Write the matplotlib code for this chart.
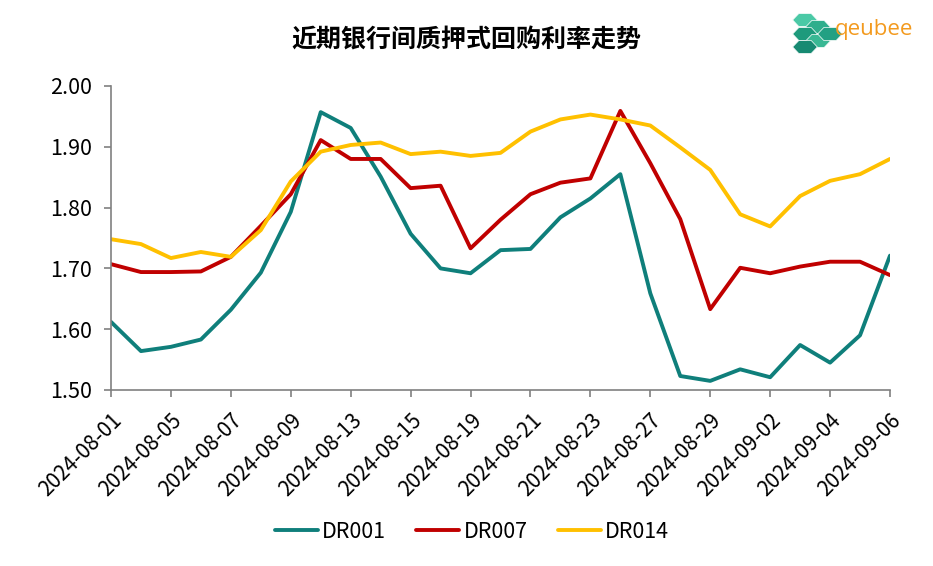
import matplotlib.pyplot as plt
import matplotlib.transforms as mtransforms
from matplotlib.patches import RegularPolygon

# trading days in the window
dates = ['2024-08-01', '2024-08-02', '2024-08-05', '2024-08-06', '2024-08-07',
         '2024-08-08', '2024-08-09', '2024-08-12', '2024-08-13', '2024-08-14',
         '2024-08-15', '2024-08-16', '2024-08-19', '2024-08-20', '2024-08-21',
         '2024-08-22', '2024-08-23', '2024-08-26', '2024-08-27', '2024-08-28',
         '2024-08-29', '2024-08-30', '2024-09-02', '2024-09-03', '2024-09-04',
         '2024-09-05', '2024-09-06']

dr001 = [1.612, 1.564, 1.571, 1.583, 1.632, 1.693, 1.793, 1.957, 1.931, 1.851,
         1.757, 1.700, 1.692, 1.730, 1.732, 1.784, 1.815, 1.855, 1.659, 1.523,
         1.515, 1.534, 1.521, 1.574, 1.545, 1.590, 1.721]
dr007 = [1.707, 1.694, 1.694, 1.695, 1.719, 1.770, 1.822, 1.911, 1.880, 1.880,
         1.832, 1.836, 1.733, 1.780, 1.822, 1.841, 1.848, 1.959, 1.873, 1.781,
         1.633, 1.701, 1.692, 1.703, 1.711, 1.711, 1.689]
dr014 = [1.748, 1.740, 1.717, 1.727, 1.719, 1.763, 1.843, 1.892, 1.903, 1.907,
         1.888, 1.892, 1.885, 1.890, 1.925, 1.945, 1.953, 1.945, 1.935, 1.899,
         1.862, 1.789, 1.769, 1.819, 1.844, 1.855, 1.880]

series = [('DR001', dr001, '#0F7F7B'),
          ('DR007', dr007, '#C00000'),
          ('DR014', dr014, '#FFC000')]

yticks = [1.50, 1.60, 1.70, 1.80, 1.90, 2.00]

plt.rcParams['font.family'] = ['Noto Sans CJK SC', 'DejaVu Sans']

fig = plt.figure(figsize=(9.33, 5.66), dpi=100)
ax = fig.add_axes([111 / 933, 1 - 390 / 566, (890 - 111) / 933, (390 - 86) / 566])

x = list(range(len(dates)))
for name, vals, color in series:
    ax.plot(x, vals, color=color, lw=2.8, label=name, solid_capstyle='round')

ax.set_xlim(0, len(dates) - 1)
ax.set_ylim(1.50, 2.00)
ax.set_yticks(yticks)
ax.set_yticklabels([f'{v:.2f}' for v in yticks], fontsize=15.5)
ax.set_xticks(x[::2])
ax.set_xticklabels(dates[::2], rotation=45, ha='right', va='top',
                   rotation_mode='anchor', fontsize=15)

# nudge the date labels a little to the right, like the original
shift = mtransforms.ScaledTranslation(5 / 100, 0, fig.dpi_scale_trans)
for lbl in ax.get_xticklabels():
    lbl.set_transform(lbl.get_transform() + shift)

for side in ['top', 'right']:
    ax.spines[side].set_visible(False)
for side in ['left', 'bottom']:
    ax.spines[side].set_color('#808080')
    ax.spines[side].set_linewidth(1.2)
ax.tick_params(axis='both', colors='#808080', length=5, width=1.2, labelcolor='black')
ax.tick_params(axis='y', pad=9)
ax.tick_params(axis='x', pad=9)

fig.text(466 / 933, 1 - 40 / 566, '近期银行间质押式回购利率走势', ha='center', va='center',
         fontsize=18, fontweight='bold')

ax.legend(loc='center', bbox_to_anchor=(472 / 933, 1 - 532 / 566),
          bbox_transform=fig.transFigure, ncol=3, frameon=False, fontsize=15.5,
          handlelength=2.0, columnspacing=1.4, handletextpad=0.2)

# logo
greens = ['#4BC9A6', '#2FAE8C', '#1E9A7C', '#39B894', '#23A083', '#178A72']
centers = [(805, 20), (818, 27), (805, 34), (818, 41), (830, 34), (805, 47)]
for (cx, cy), c in zip(centers, greens):
    fig.patches.append(RegularPolygon((cx / 933, 1 - cy / 566), 6, radius=7.5 / 566,
                                      orientation=0.52, facecolor=c, edgecolor='white',
                                      lw=0.5, transform=fig.transFigure))
fig.text(835 / 933, 1 - 30 / 566, 'qeubee', ha='left', va='center', fontsize=16,
         color='#F39A1E', family='Open Sans')

fig.savefig('out.png', dpi=100)
